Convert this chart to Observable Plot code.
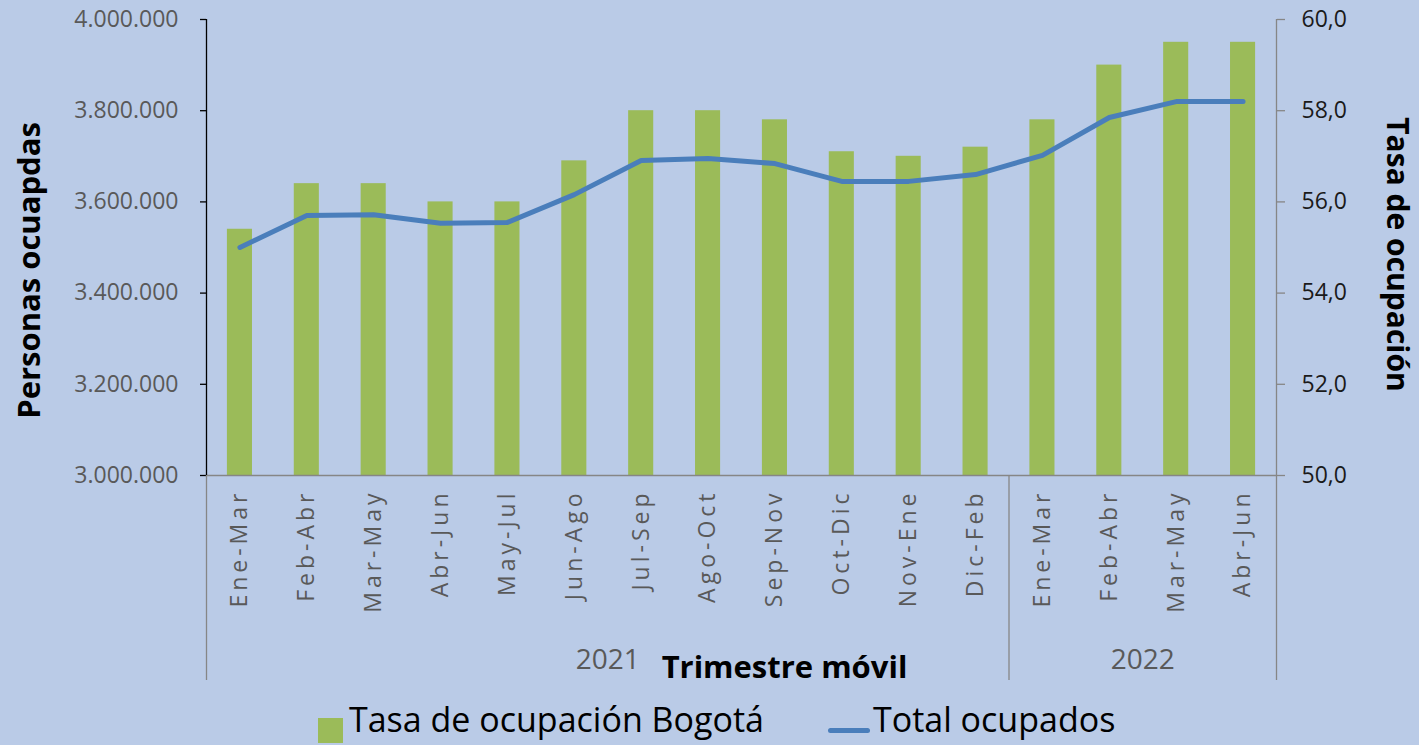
<!DOCTYPE html>
<html>
<head>
<meta charset="utf-8">
<script src="https://cdn.jsdelivr.net/npm/d3@7"></script>
<script src="https://cdn.jsdelivr.net/npm/@observablehq/plot@0.6"></script>
<style>
  html, body { margin: 0; padding: 0; background: #bacbe7; }
  #chart { width: 1419px; height: 700px; }
  #chart g[aria-label="x-axis tick label"] text { letter-spacing: 4px; }
  #legend { position: relative; width: 1419px; height: 45px; font-family: "Open Sans", sans-serif; font-size: 34px; color: #000; }
  #legend .sw { position: absolute; left: 318px; top: 18px; width: 25px; height: 25px; background: #9bbb59; }
  #legend .t1 { position: absolute; left: 349px; top: -1px; line-height: 40px; }
  #legend .ln { position: absolute; left: 828px; top: 28px; width: 42px; height: 5px; border-radius: 3px; background: #4a7ebb; }
  #legend .t2 { position: absolute; left: 873px; top: -1px; line-height: 40px; }
</style>
</head>
<body>
<div id="chart"></div>
<div id="legend"><div class="sw"></div><div class="t1">Tasa de ocupación Bogotá</div><div class="ln"></div><div class="t2">Total ocupados</div></div>
<script>
// ---- Data ----
const categories = ["Ene-Mar","Feb-Abr","Mar-May","Abr-Jun","May-Jul","Jun-Ago","Jul-Sep","Ago-Oct","Sep-Nov","Oct-Dic","Nov-Ene","Dic-Feb","Ene-Mar","Feb-Abr","Mar-May","Abr-Jun"];
const years = [2021,2021,2021,2021,2021,2021,2021,2021,2021,2021,2021,2021,2022,2022,2022,2022];
const tasaOcupacion = [55.4,56.4,56.4,56.0,56.0,56.9,58.0,58.0,57.8,57.1,57.0,57.2,57.8,59.0,59.5,59.5];
const totalOcupados = [3500000,3570000,3572000,3553000,3555000,3616000,3691000,3695000,3684000,3645000,3645000,3660000,3702000,3785000,3820000,3820000];
const leftTicks = [3000000,3200000,3400000,3600000,3800000,4000000];
const rightTicks = [50,52,54,56,58,60];
const groupYears = [2021,2022];

// ---- Layout ----
const W = 1419, H = 700, mL = 206, mR = 143, mT = 19, mB = 225;
const step = (W - mL - mR) / categories.length;
const leftDomain = [3000000, 4000000];
const rightDomain = [50, 60];
const toLeft = v => leftDomain[0] + (v - rightDomain[0]) * (leftDomain[1] - leftDomain[0]) / (rightDomain[1] - rightDomain[0]);
const toRight = v => rightDomain[0] + (v - leftDomain[0]) * (rightDomain[1] - rightDomain[0]) / (leftDomain[1] - leftDomain[0]);
const pxPerUnit = (H - mT - mB) / (leftDomain[1] - leftDomain[0]);
const sepLow = leftDomain[0] - 205 / pxPerUnit;

const keys = categories.map((c, i) => `${years[i]} ${c}`);
const data = keys.map((k, i) => ({key: k, cat: categories[i], year: years[i], tasa: tasaOcupacion[i], ocupados: totalOcupados[i]}));
const catOf = new Map(keys.map((k, i) => [k, categories[i]]));

const groups = groupYears.map(y => {
  const idx = data.map((d, i) => d.year === y ? i : -1).filter(i => i >= 0);
  const n = idx.length, start = idx[0];
  return {year: String(y), start: keys[start], mid: keys[start + Math.floor(n / 2)], even: n % 2 === 0};
});

const es = d3.formatLocale({decimal: ",", thousands: ".", grouping: [3], currency: ["", ""]});
const fmtThousands = es.format(",d");
const fmtRate = es.format(".1f");

const font = "'Open Sans', sans-serif";

const chart = Plot.plot({
  width: W, height: H,
  marginLeft: mL, marginRight: mR, marginTop: mT, marginBottom: mB,
  style: {background: "transparent", fontFamily: font, overflow: "visible"},
  x: {type: "band", domain: keys, paddingInner: 0.625, paddingOuter: 0.3125, round: false, axis: null},
  y: {domain: leftDomain, axis: null},
  marks: [
    Plot.barY(data, {x: "key", y1: leftDomain[0], y2: d => toLeft(d.tasa), fill: "#9bbb59"}),
    Plot.ruleY([leftDomain[0]], {stroke: "#868686", strokeWidth: 1.3}),
    Plot.lineY(data, {x: "key", y: "ocupados", stroke: "#4a7ebb", strokeWidth: 5, strokeLinecap: "round", strokeLinejoin: "round"}),
    // left axis
    Plot.ruleX([keys[0]], {dx: -step / 2, y1: leftDomain[0], y2: leftDomain[1], stroke: "black", strokeWidth: 1.3}),
    Plot.axisY(leftTicks, {anchor: "left", label: null, tickSize: 6, tickPadding: 22, tickFormat: fmtThousands, fontSize: 23, fill: "#595959", stroke: "black", strokeWidth: 1.3, fontFamily: font}),
    // right axis
    Plot.ruleX([keys[keys.length - 1]], {dx: step / 2, y1: leftDomain[0], y2: leftDomain[1], stroke: "#868686", strokeWidth: 1.3}),
    Plot.axisY(rightTicks.map(toLeft), {anchor: "right", label: null, tickSize: 8, tickPadding: 17, tickFormat: d => fmtRate(toRight(d)), fontSize: 23, fill: "#1a1a1a", stroke: "#868686", strokeWidth: 1.3, fontFamily: font}),
    // x axis labels
    Plot.axisX({anchor: "bottom", label: null, tickSize: 0, tickPadding: 14, tickRotate: -90, tickFormat: k => catOf.get(k), fontSize: 23, fill: "#595959", fontFamily: font}),
    // group separators
    Plot.ruleX(groups, {x: "start", dx: -step / 2, y1: leftDomain[0], y2: sepLow, stroke: "#868686", strokeWidth: 1.3}),
    Plot.ruleX([keys[keys.length - 1]], {dx: step / 2, y1: leftDomain[0], y2: sepLow, stroke: "#868686", strokeWidth: 1.3}),
    Plot.text(groups, {x: "mid", dx: -step / 2, frameAnchor: "bottom", lineAnchor: "middle", textAnchor: "middle", dy: 185, text: "year", fontSize: 28, fill: "#595959", fontFamily: font}),
    // titles
    Plot.text(["Trimestre móvil"], {frameAnchor: "bottom", lineAnchor: "middle", textAnchor: "middle", dx: 43, dy: 193, text: d => d, fontSize: 31, fontWeight: "bold", fill: "black", fontFamily: font}),
    Plot.text(["Personas ocuapdas"], {frameAnchor: "left", textAnchor: "middle", lineAnchor: "middle", dx: -176, dy: 23, rotate: -90, text: d => d, fontSize: 31, fontWeight: "bold", fill: "black", fontFamily: font}),
    Plot.text(["Tasa de ocupación"], {frameAnchor: "right", textAnchor: "middle", lineAnchor: "middle", dx: 120, dy: 7, rotate: 90, text: d => d, fontSize: 30, fontWeight: "bold", fill: "black", fontFamily: font})
  ]
});
document.getElementById("chart").appendChild(chart);
</script>
</body>
</html>
